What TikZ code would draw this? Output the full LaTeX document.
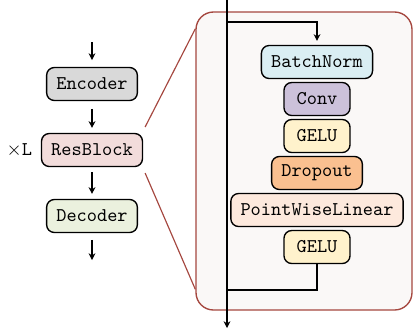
\documentclass[tikz,border=0pt]{standalone}
\usepackage{tikz}
\usetikzlibrary{arrows.meta}

\definecolor{encfill}{HTML}{D9D9D9}
\definecolor{resfill}{HTML}{F2DCDB}
\definecolor{decfill}{HTML}{EBF1DE}
\definecolor{bnfill}{HTML}{DAEEF3}
\definecolor{convfill}{HTML}{CCC1DA}
\definecolor{gelufill}{HTML}{FFF2CC}
\definecolor{dropfill}{HTML}{FAC090}
\definecolor{pwlfill}{HTML}{FDE9DD}
\definecolor{panelfill}{HTML}{FAF8F7}
\definecolor{paneldraw}{HTML}{A5473F}

\tikzset{
  block/.style={rectangle, draw, rounded corners=4pt, line width=0.7pt,
    minimum height=17pt, minimum width=34pt, inner xsep=5pt, font=\ttfamily},
  flow/.style={-{Stealth[length=3.5pt,width=3.5pt]}, line width=0.6pt},
}

\begin{document}
\begin{tikzpicture}[x=0.515pt, y=-0.515pt]
      \useasboundingbox (0,0) rectangle (414,334);

      \node[rectangle, draw=paneldraw, fill=panelfill, rounded corners=9pt, line width=0.7pt,
        minimum width=216*0.515pt, minimum height=298*0.515pt] at (304,161) (panel) {};

      \node[block, fill=encfill] at (92,84) (enc) {Encoder};
      \node[block, fill=resfill] at (92,150) (res) {ResBlock};
      \node[block, fill=decfill] at (92,216) (dec) {Decoder};
      \node[anchor=east] at ([xshift=-1pt] res.west) (times) {$\times$\texttt{L}};

      \coordinate (in) at (92,42);
      \coordinate (out) at (92,260);
      \draw[flow] (in) -- ([yshift=3.5pt] enc.north);
      \draw[flow, shorten <=4pt, shorten >=2.5pt] (enc) -- (res);
      \draw[flow, shorten <=2.5pt, shorten >=2.5pt] (res) -- (dec);
      \draw[flow, shorten <=3.5pt] (dec.south) -- (out);

      \draw[paneldraw, line width=0.6pt] ([xshift=1pt, yshift=3pt] res.north east) -- ([yshift=-9pt] panel.north west);
      \draw[paneldraw, line width=0.6pt] ([xshift=1pt, yshift=-3pt] res.south east) -- ([yshift=11pt] panel.south west);

      \node[block, fill=bnfill] at (317,62) (bn) {BatchNorm};
      \node[block, fill=convfill] at (317,99) (conv) {Conv};
      \node[block, fill=gelufill] at (317,136) (gelu1) {GELU};
      \node[block, fill=dropfill] at (317,173) (drop) {Dropout};
      \node[block, fill=pwlfill] at (317,210) (pwl) {PointWiseLinear};
      \node[block, fill=gelufill] at (317,247) (gelu2) {GELU};

      \coordinate (top) at (227,0);
      \coordinate (split) at (227,22);
      \coordinate (join) at (227,290);
      \coordinate (bot) at (227,328);
      \draw[flow] (top) -- (bot);
      \draw[flow] (split) -| ([yshift=2pt] bn.north);
      \draw[line width=0.6pt] (gelu2.south) |- (join);
    \end{tikzpicture}
\end{document}
